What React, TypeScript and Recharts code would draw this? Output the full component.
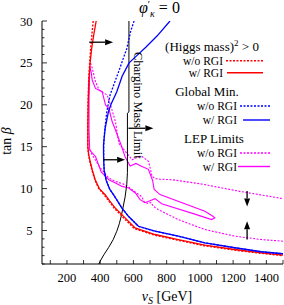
import React from 'react';
import { ComposedChart, Line, XAxis, YAxis, ReferenceLine } from 'recharts';

type Pt = [number, number];

// [v_S in GeV, tan beta]
const higgsMassNoRgi: Pt[] = [
  [358, 30], [350, 28.3], [343, 26.75], [337, 25.1], [331, 22.95], [327, 20.1], [325, 17.6], [325, 15.0],
  [330, 14.05], [338, 13.2], [350, 12.25], [368, 11.05], [392, 10.0], [426, 9.2], [455, 8.45], [487, 7.6],
  [546, 6.4], [606, 5.22], [726, 4.45], [866, 3.85], [1026, 3.18], [1206, 2.66], [1366, 2.28], [1500, 2.0],
];
const higgsMassRgi: Pt[] = [
  [376, 30], [361, 28.3], [349, 26.75], [340, 25.1], [332, 22.95], [328, 20.1], [326, 17.6], [326, 15.0],
  [331, 14.05], [340, 13.2], [352, 12.25], [370, 11.05], [395, 10.0], [430, 9.27], [458, 8.5], [490, 7.69],
  [550, 6.5], [610, 5.31], [730, 4.52], [870, 3.92], [1030, 3.25], [1210, 2.73], [1370, 2.34], [1500, 2.06],
];
const globalMinNoRgi: Pt[] = [
  [604, 30], [584, 28.8], [560, 26.7], [535, 25.3], [510, 23.9], [484, 22.5], [460, 21.2], [440, 19.2],
  [432, 17.8], [425, 16.4], [421, 15.0], [421, 13.4], [424, 12.2], [436, 11.0], [458, 9.9], [480, 9.27],
  [505, 8.5], [530, 7.69], [570, 6.69], [630, 5.5], [730, 4.91], [870, 4.32], [1030, 3.53], [1210, 2.94],
  [1370, 2.46], [1500, 2.22],
];
const globalMinRgi: Pt[] = [
  [820, 30], [742, 28.2], [676, 26.9], [622, 25.9], [574, 25.0], [532, 23.4], [500, 21.55], [466, 20.1],
  [450, 19.2], [430, 17.2], [420, 15.2], [421, 13.4], [424, 12.2], [436, 11.0], [458, 9.9], [480, 9.27],
  [505, 8.5], [530, 7.69], [570, 6.69], [630, 5.5], [730, 4.91], [870, 4.32], [1030, 3.53], [1210, 2.94],
  [1370, 2.46], [1500, 2.22],
];
const charginoLimit: Pt[] = [
  [573, 30], [573, 19.15], [564, 19.0], [564, 11.9], [560, 10.5], [550, 9.0], [538, 7.8], [528, 6.8],
  [515, 5.8], [500, 4.91], [478, 3.9], [450, 2.94], [422, 2.1], [400, 1.34], [392, 1.0],
];
const lepNoRgiUpper: Pt[] = [
  [342, 24.97], [352, 24.4], [372, 22.75], [394, 21.76], [412, 21.52], [442, 21.17], [462, 19.98], [492, 18.0],
  [512, 15.42], [552, 14.42], [592, 13.44], [622, 13.73], [652, 13.83], [692, 13.23], [712, 11.45], [736, 11.18],
  [760, 11.12], [832, 11.06], [1000, 10.58], [1240, 9.67], [1500, 8.8],
];
const lepNoRgiLower: Pt[] = [
  [1500, 3.72], [1370, 3.92], [1210, 4.32], [1030, 5.11], [870, 6.3], [750, 7.49], [720, 7.88], [705, 8.35],
  [690, 8.2], [665, 8.4], [652, 9.0], [592, 9.87], [552, 10.46], [492, 10.86], [452, 11.26], [400, 12.49],
  [352, 14.03], [337, 14.74],
];
const lepRgi: Pt[] = [
  [337, 24.6], [346, 23.9], [352, 22.95], [372, 21.96], [412, 21.56], [432, 19.98], [452, 19.58], [472, 18.0],
  [492, 17.0], [526, 15.2], [550, 13.8], [580, 12.7], [615, 13.0], [645, 12.7], [690, 12.3], [715, 11.0],
  [725, 9.9], [760, 9.28], [1030, 7.29], [1078, 6.7], [1090, 6.5], [1070, 6.3], [970, 6.95], [770, 8.2],
  [730, 8.8], [700, 8.56], [670, 8.32], [640, 8.68], [612, 9.48], [572, 10.07], [532, 10.26], [492, 10.67],
  [452, 11.06], [406, 12.0], [372, 13.83], [337, 14.6], [333, 17.0], [333, 20.57], [337, 24.6],
];

// arrows: [start, tip]
const arrows: [Pt, Pt][] = [
  [[334, 27.47], [478, 27.47]],
  [[570, 17.2], [720, 17.2]],
  [[420, 13.44], [550, 13.44]],
  [[1284, 9.7], [1284, 7.85]],
  [[1284, 3.92], [1284, 6.1]],
];

const xTicks = [100, 200, 300, 400, 500, 600, 700, 800, 900, 1000, 1100, 1200, 1300, 1400, 1500];
const xLabels = [200, 400, 600, 800, 1000, 1200, 1400];
const yTicks = [1, 2, 3, 4, 5, 6, 7, 8, 9, 10, 11, 12, 13, 14, 15, 16, 17, 18, 19, 20, 21, 22, 23, 24, 25, 26, 27, 28, 29, 30];
const yLabels = [5, 10, 15, 20, 25, 30];

const FONT = "'Liberation Serif', 'Times New Roman', serif";
const RED = '#ff0000';
const BLUE = '#0000ff';
const MAGENTA = '#ff00ff';

const rows = (pts: Pt[]) => pts.map(([x, y]) => ({ x, y }));

const BottomTick = ({ x, y, payload }: any) => (
  <g>
    <line x1={x} y1={y} x2={x} y2={y - 4} stroke="#000" strokeWidth={0.8} />
    {xLabels.includes(payload.value) && (
      <text x={x} y={y + 18} textAnchor="middle" fontSize={12.5} fontFamily={FONT} fill="#000">
        {payload.value}
      </text>
    )}
  </g>
);
const TopTick = ({ x, y }: any) => <line x1={x} y1={y} x2={x} y2={y + 4} stroke="#000" strokeWidth={0.8} />;
const LeftTick = ({ x, y, payload }: any) => {
  const major = yLabels.includes(payload.value);
  return (
    <g>
      <line x1={x} y1={y} x2={x + (major ? 5 : 2.5)} y2={y} stroke="#000" strokeWidth={0.8} />
      {major && (
        <text x={x - 9.5} y={y + 4.6} textAnchor="end" fontSize={12.5} fontFamily={FONT} fill="#000">
          {payload.value}
        </text>
      )}
    </g>
  );
};
const RightTick = ({ x, y, payload }: any) => {
  const major = yLabels.includes(payload.value);
  return <line x1={x} y1={y} x2={x - (major ? 5 : 2.5)} y2={y} stroke="#000" strokeWidth={0.8} />;
};

const Arrow = (props: any) => {
  const { x1, y1, x2, y2 } = props;
  const a = Math.atan2(y2 - y1, x2 - x1);
  const len = 8;
  const half = 3;
  const bx = x2 - len * Math.cos(a);
  const by = y2 - len * Math.sin(a);
  const px = -Math.sin(a) * half;
  const py = Math.cos(a) * half;
  return (
    <g>
      <line x1={x1} y1={y1} x2={bx} y2={by} stroke="#000" strokeWidth={1.3} />
      <polygon points={`${x2},${y2} ${bx + px},${by + py} ${bx - px},${by - py}`} fill="#000" />
    </g>
  );
};

const series = [
  { key: 'lepRgi', pts: lepRgi, color: MAGENTA, dash: undefined, w: 1.1 },
  { key: 'lepNoU', pts: lepNoRgiUpper, color: MAGENTA, dash: '2 1.5', w: 1.1 },
  { key: 'lepNoL', pts: lepNoRgiLower, color: MAGENTA, dash: '2 1.5', w: 1.1 },
  { key: 'chargino', pts: charginoLimit, color: '#000', dash: undefined, w: 1 },
  { key: 'higgsNo', pts: higgsMassNoRgi, color: RED, dash: '2 1.5', w: 1.4 },
  { key: 'higgs', pts: higgsMassRgi, color: RED, dash: undefined, w: 1.3 },
  { key: 'globalNo', pts: globalMinNoRgi, color: BLUE, dash: '2 1.5', w: 1.3 },
  { key: 'global', pts: globalMinRgi, color: BLUE, dash: undefined, w: 1.3 },
];

const LegendEntry = ({ y, endX, x1, x2, color, dash, label }: any) => (
  <g>
    <text x={endX} y={y + 4} textAnchor="end" fontSize={11.5}>{label}</text>
    <line x1={x1} y1={y} x2={x2} y2={y} stroke={color} strokeWidth={1.4} strokeDasharray={dash} />
  </g>
);

const App = () => (
  <div style={{ position: 'fixed', left: 0, top: 0, width: 284, height: 305, background: '#fff' }}>
    <ComposedChart width={284} height={305} margin={{ top: 21, right: 1, bottom: 0, left: 0 }}>
      <XAxis xAxisId="b" type="number" dataKey="x" domain={[50, 1500]} ticks={xTicks} interval={0}
        height={41} tickSize={0} tickMargin={0} tickLine={false} tick={(p: any) => <BottomTick {...p} />}
        axisLine={{ stroke: '#000' }} allowDataOverflow />
      <XAxis xAxisId="t" orientation="top" type="number" dataKey="x" domain={[50, 1500]} ticks={xTicks}
        interval={0} height={0} tickSize={0} tickMargin={0} tickLine={false} tick={(p: any) => <TopTick {...p} />}
        axisLine={{ stroke: '#000' }} allowDataOverflow />
      <YAxis yAxisId="l" type="number" dataKey="y" domain={[1, 30]} ticks={yTicks} interval={0} width={42}
        tickSize={0} tickMargin={0} tickLine={false} tick={(p: any) => <LeftTick {...p} />}
        axisLine={{ stroke: '#000' }} allowDataOverflow />
      <YAxis yAxisId="r" orientation="right" type="number" dataKey="y" domain={[1, 30]} ticks={yTicks}
        interval={0} width={0} tickSize={0} tickMargin={0} tickLine={false} tick={(p: any) => <RightTick {...p} />}
        axisLine={{ stroke: '#000' }} allowDataOverflow />
      {series.map((s) => (
        <Line key={s.key} xAxisId="b" yAxisId="l" data={rows(s.pts)} dataKey="y" type="linear"
          stroke={s.color} strokeWidth={s.w} strokeDasharray={s.dash} dot={false} activeDot={false}
          legendType="none" isAnimationActive={false} />
      ))}
      {arrows.map(([from, to], i) => (
        <ReferenceLine key={i} xAxisId="b" yAxisId="l"
          segment={[{ x: from[0], y: from[1] }, { x: to[0], y: to[1] }]}
          shape={(p: any) => <Arrow {...p} />} ifOverflow="visible" />
      ))}
    </ComposedChart>
    <svg width={284} height={305} style={{ position: 'absolute', left: 0, top: 0, pointerEvents: 'none' }}
      fontFamily={FONT} fill="#000">
      <text x={139} y={13} fontSize={16}>
        <tspan fontStyle="italic">φ</tspan>
        <tspan dy={-5} fontSize={10}>′</tspan>
        <tspan dy={9} fontSize={10} fontStyle="italic">κ</tspan>
        <tspan dy={-4}>{' = 0'}</tspan>
      </text>
      <text transform="translate(11,141) rotate(-90)" textAnchor="middle" fontSize={14}>
        tan <tspan fontStyle="italic">β</tspan>
      </text>
      <text x={167} y={301} textAnchor="middle" fontSize={14}>
        <tspan fontStyle="italic">v</tspan>
        <tspan dy={3} fontSize={10} fontStyle="italic">S</tspan>
        <tspan dy={-3}>{' [GeV]'}</tspan>
      </text>
      <text transform="translate(133.5,52) rotate(90)" fontSize={12.5}>Chargino Mass Limit</text>

      <text x={212} y={50.5} textAnchor="middle" fontSize={13}>
        (Higgs mass)<tspan dy={-5} fontSize={9}>2</tspan><tspan dy={5}>{' > 0'}</tspan>
      </text>
      <LegendEntry y={60.8} endX={223} x1={226} x2={263} color={RED} dash="2 1.5" label="w/o RGI" />
      <LegendEntry y={72.8} endX={223} x1={227} x2={263} color={RED} label="w/ RGI" />
      <text x={207} y={96} textAnchor="middle" fontSize={13}>Global Min.</text>
      <LegendEntry y={106} endX={237} x1={240} x2={270} color={BLUE} dash="2 1.5" label="w/o RGI" />
      <LegendEntry y={120} endX={237} x1={243} x2={270} color={BLUE} label="w/ RGI" />
      <text x={214} y={142.6} textAnchor="middle" fontSize={13}>LEP Limits</text>
      <LegendEntry y={153} endX={237} x1={240} x2={270} color={MAGENTA} dash="2 1.5" label="w/o RGI" />
      <LegendEntry y={166.5} endX={237} x1={238} x2={270} color={MAGENTA} label="w/ RGI" />
    </svg>
  </div>
);

export default App;
